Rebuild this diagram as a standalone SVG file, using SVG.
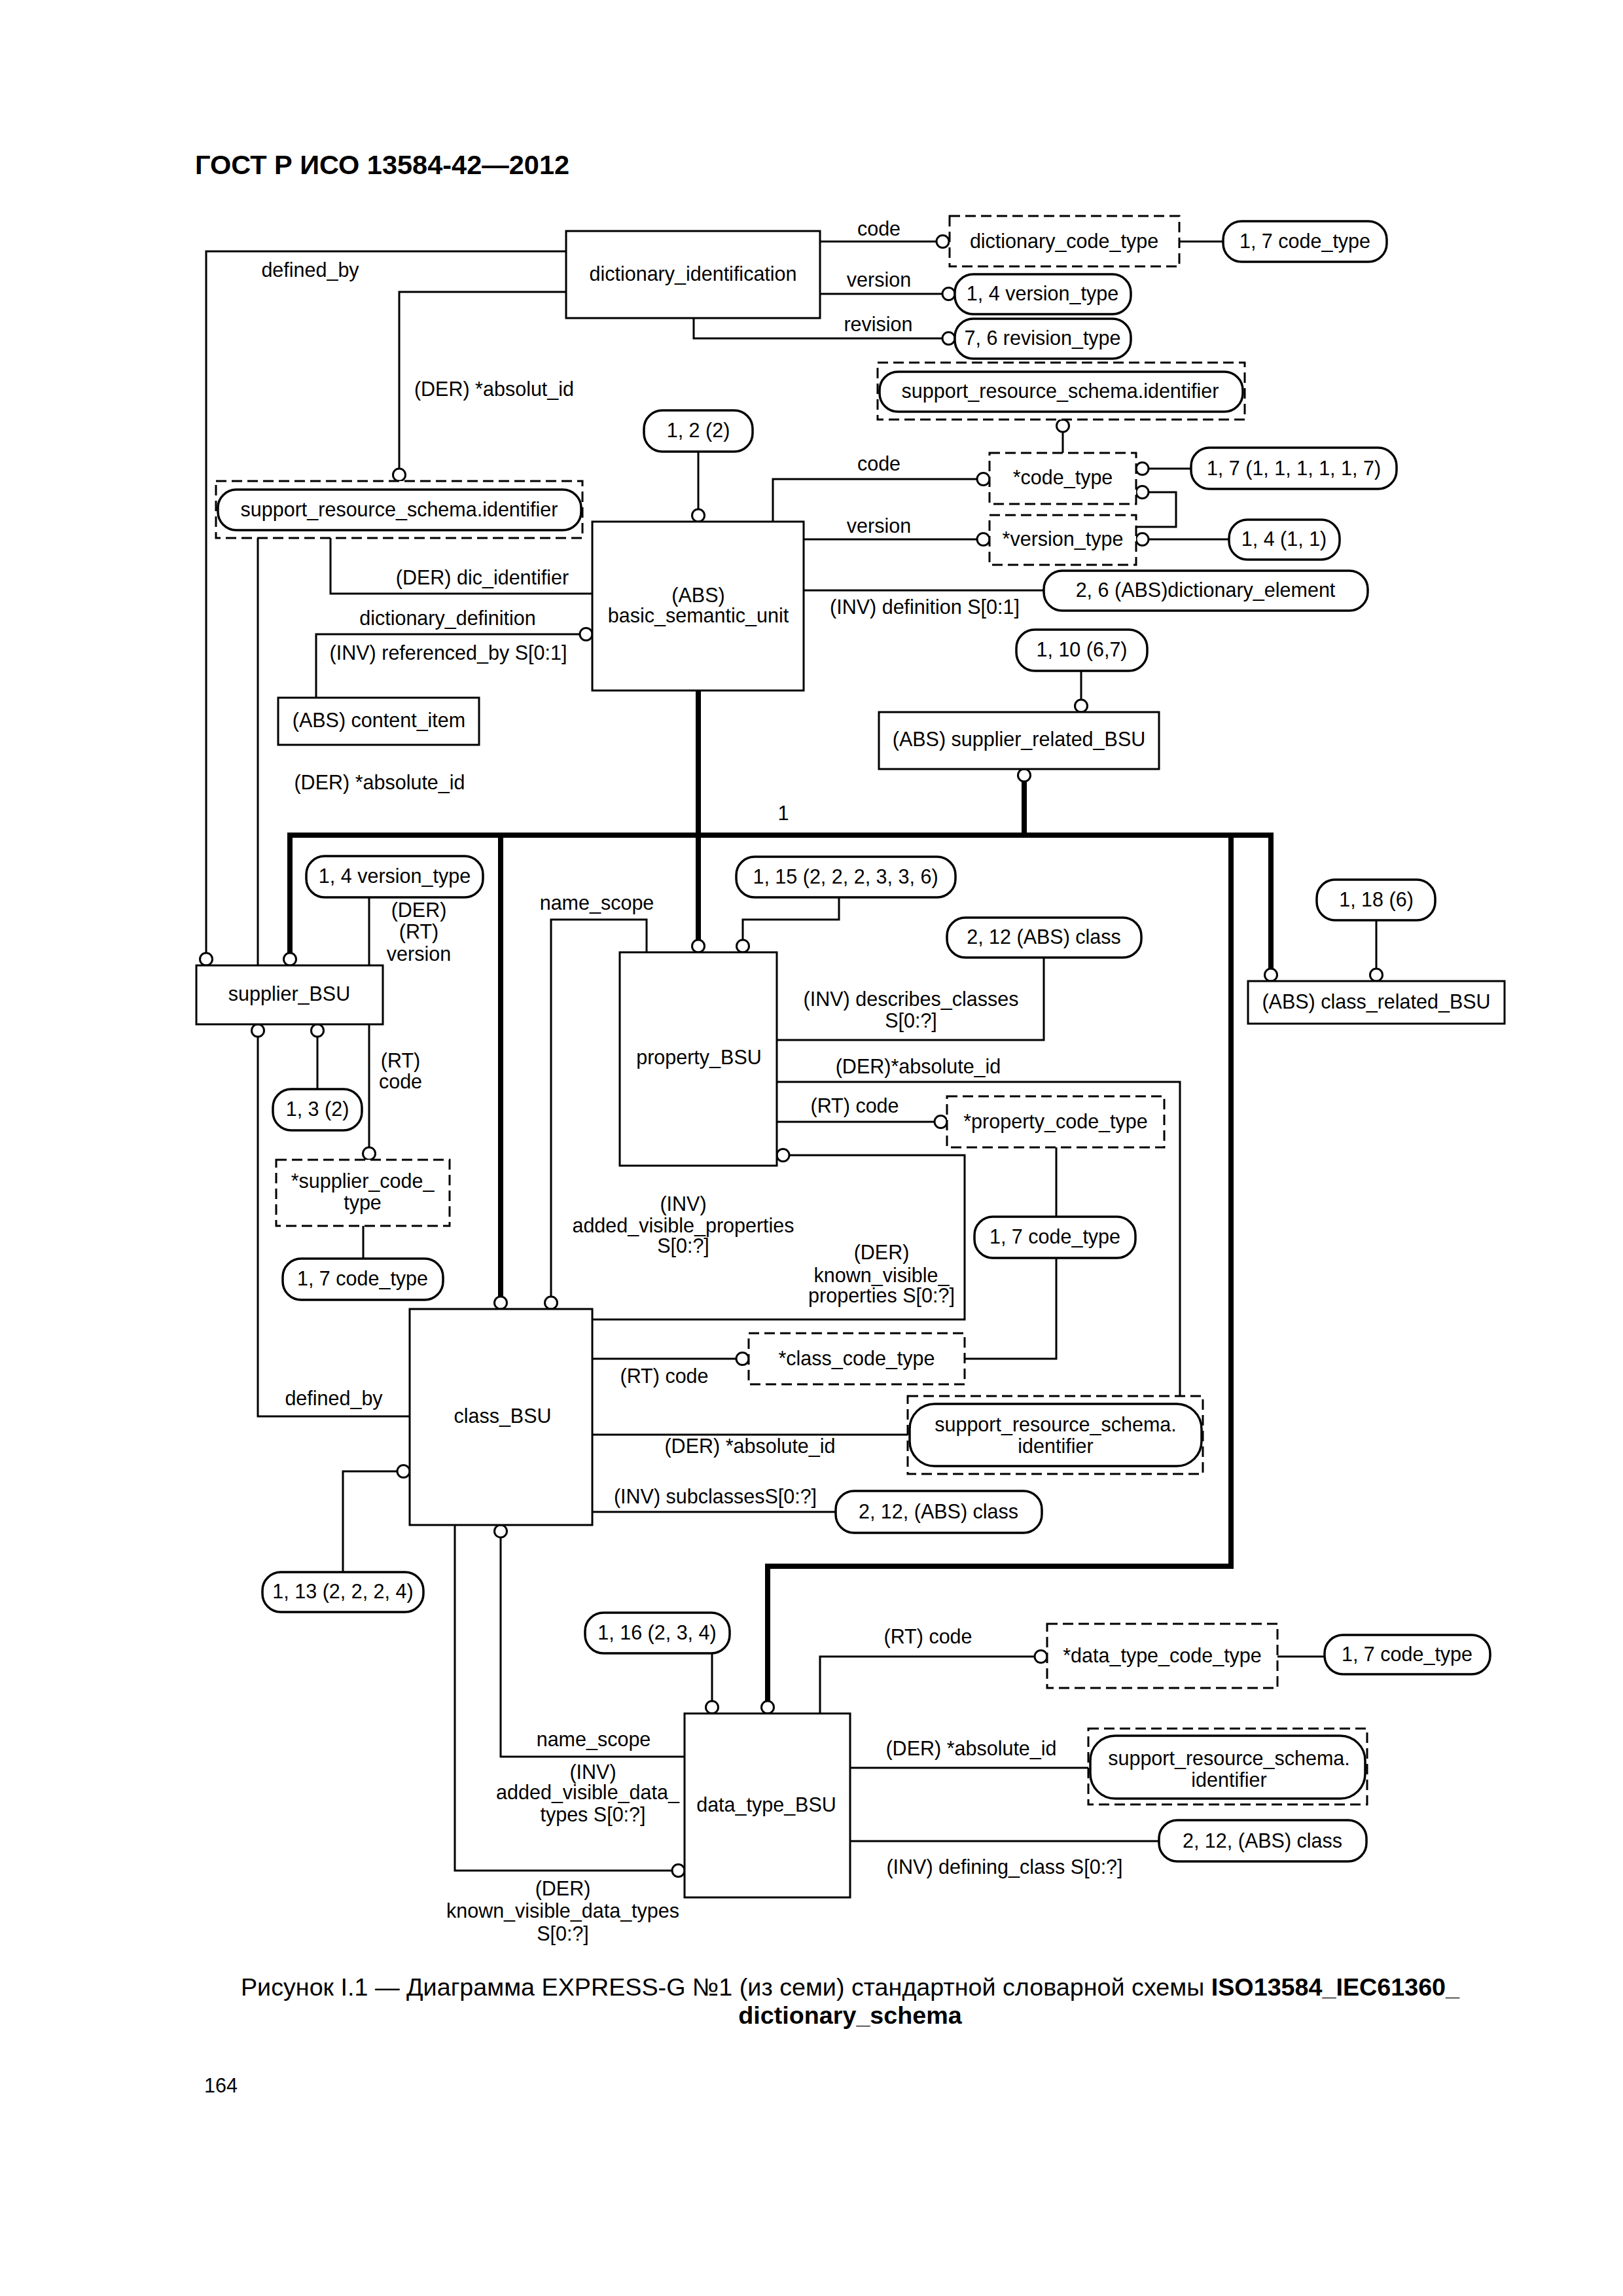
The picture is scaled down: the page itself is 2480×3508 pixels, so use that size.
<svg xmlns="http://www.w3.org/2000/svg" width="2480" height="3508" viewBox="0 0 2480 3508">
<style>
text{font-family:"Liberation Sans",Arial,sans-serif;font-size:30.5px;fill:#000}
.m{text-anchor:middle}
.b{fill:#fff;stroke:#000;stroke-width:3}
.d{fill:#fff;stroke:#000;stroke-width:3;stroke-dasharray:16 8}
.p{fill:#fff;stroke:#000;stroke-width:3.5}
.l{fill:none;stroke:#000;stroke-width:3}
.t{fill:none;stroke:#000;stroke-width:8;stroke-linejoin:miter}
.o{fill:#fff;stroke:#000;stroke-width:3}
.title{font-size:41.5px;font-weight:bold}
.cap{font-size:37.7px}
</style>
<rect width="2480" height="3508" fill="#fff"/>
<text class="title" x="298" y="266">ГОСТ Р ИСО 13584-42—2012</text>

<g id="connectors">
<path class="l" d="M1253,369H1431"/>
<path class="l" d="M1802,369H1869"/>
<path class="l" d="M1253,449H1440"/>
<path class="l" d="M1060,486V517H1440"/>
<path class="l" d="M865,384H315V1456"/>
<path class="l" d="M865,446H610V716"/>
<path class="l" d="M394,822V1475"/>
<path class="l" d="M505,822V907H905"/>
<path class="l" d="M483,1066V969H886"/>
<path class="l" d="M1067,690V778"/>
<path class="l" d="M1181,797V732H1493"/>
<path class="l" d="M1624,660V692"/>
<path class="l" d="M1755,716H1820"/>
<path class="l" d="M1755,752H1797V805H1736"/>
<path class="l" d="M1228,824H1493"/>
<path class="l" d="M1755,824H1878"/>
<path class="l" d="M1228,902H1595"/>
<path class="l" d="M1652,1025V1069"/>
<path class="t" d="M1565,1194V1276"/>
<path class="t" d="M1067,1055V1436"/>
<path class="t" d="M443,1456V1276H1942V1480"/>
<path class="t" d="M765,1276V1981"/>
<path class="t" d="M1881,1276V2393H1173V2599"/>
<path class="l" d="M564,1371V1475"/>
<path class="l" d="M394,1584V2164H626"/>
<path class="l" d="M485,1584V1664"/>
<path class="l" d="M564,1565V1753"/>
<path class="l" d="M555,1873V1923"/>
<path class="l" d="M842,1981V1405H988V1455"/>
<path class="l" d="M1135,1436V1405H1282V1371"/>
<path class="l" d="M1187,1589H1595V1463"/>
<path class="l" d="M1187,1653H1803V2133"/>
<path class="l" d="M1187,1714H1428"/>
<path class="l" d="M1614,1753V1859"/>
<path class="l" d="M1614,1922V2076H1474"/>
<path class="l" d="M1206,1765H1474V2016H905"/>
<path class="l" d="M905,2076H1125"/>
<path class="l" d="M905,2192H1390"/>
<path class="l" d="M905,2310H1277"/>
<path class="l" d="M607,2248H524V2402"/>
<path class="l" d="M695,2330V2858H1027"/>
<path class="l" d="M765,2349V2684H1046"/>
<path class="l" d="M1088,2526V2599"/>
<path class="l" d="M1253,2618V2531H1581"/>
<path class="l" d="M1952,2531H2024"/>
<path class="l" d="M1299,2701H1666"/>
<path class="l" d="M1299,2813H1771"/>
<path class="l" d="M2103,1480V1406"/>
<circle class="o" cx="1440.5" cy="369" r="9.5"/>
<circle class="o" cx="1449.5" cy="449" r="9.5"/>
<circle class="o" cx="1449.5" cy="517" r="9.5"/>
<circle class="o" cx="315" cy="1465.5" r="9.5"/>
<circle class="o" cx="610" cy="725.5" r="9.5"/>
<circle class="o" cx="895.5" cy="969" r="9.5"/>
<circle class="o" cx="1067" cy="787.5" r="9.5"/>
<circle class="o" cx="1502.5" cy="732" r="9.5"/>
<circle class="o" cx="1624" cy="650.5" r="9.5"/>
<circle class="o" cx="1745.5" cy="716" r="9.5"/>
<circle class="o" cx="1745.5" cy="752" r="9.5"/>
<circle class="o" cx="1502.5" cy="824" r="9.5"/>
<circle class="o" cx="1745.5" cy="824" r="9.5"/>
<circle class="o" cx="1652" cy="1078.5" r="9.5"/>
<circle class="o" cx="1565" cy="1184.5" r="9.5"/>
<circle class="o" cx="1067" cy="1445.5" r="9.5"/>
<circle class="o" cx="443" cy="1465.5" r="9.5"/>
<circle class="o" cx="765" cy="1990.5" r="9.5"/>
<circle class="o" cx="1942" cy="1489.5" r="9.5"/>
<circle class="o" cx="1173" cy="2608.5" r="9.5"/>
<circle class="o" cx="394" cy="1574.5" r="9.5"/>
<circle class="o" cx="485" cy="1574.5" r="9.5"/>
<circle class="o" cx="564" cy="1762.5" r="9.5"/>
<circle class="o" cx="842" cy="1990.5" r="9.5"/>
<circle class="o" cx="1135" cy="1445.5" r="9.5"/>
<circle class="o" cx="1437.5" cy="1714" r="9.5"/>
<circle class="o" cx="1196.5" cy="1765" r="9.5"/>
<circle class="o" cx="1134.5" cy="2076" r="9.5"/>
<circle class="o" cx="616.5" cy="2248" r="9.5"/>
<circle class="o" cx="765" cy="2339.5" r="9.5"/>
<circle class="o" cx="1036.5" cy="2858" r="9.5"/>
<circle class="o" cx="1088" cy="2608.5" r="9.5"/>
<circle class="o" cx="1590.5" cy="2531" r="9.5"/>
<circle class="o" cx="2103" cy="1489.5" r="9.5"/>
</g>

<g id="connector-labels">
<text class="m" x="1343" y="360">code</text>
<text class="m" x="1343" y="438">version</text>
<text class="m" x="1342" y="506">revision</text>
<text class="m" x="474" y="423">defined_by</text>
<text class="m" x="755" y="605">(DER) *absolut_id</text>
<text class="m" x="1343" y="719">code</text>
<text class="m" x="1343" y="814">version</text>
<text class="m" x="1413" y="938">(INV) definition S[0:1]</text>
<text class="m" x="737" y="893">(DER) dic_identifier</text>
<text class="m" x="684" y="955">dictionary_definition</text>
<text class="m" x="685" y="1008">(INV) referenced_by S[0:1]</text>
<text class="m" x="580" y="1206">(DER) *absolute_id</text>
<text class="m" x="1197" y="1253">1</text>
<text class="m" x="640" y="1401">(DER)</text>
<text class="m" x="640" y="1434">(RT)</text>
<text class="m" x="640" y="1468">version</text>
<text class="m" x="612" y="1631">(RT)</text>
<text class="m" x="612" y="1663">code</text>
<text class="m" x="912" y="1390">name_scope</text>
<text class="m" x="1392" y="1537">(INV) describes_classes</text>
<text class="m" x="1392" y="1570">S[0:?]</text>
<text class="m" x="1403" y="1640">(DER)*absolute_id</text>
<text class="m" x="1306" y="1700">(RT) code</text>
<text class="m" x="1044" y="1850">(INV)</text>
<text class="m" x="1044" y="1883">added_visible_properties</text>
<text class="m" x="1044" y="1914">S[0:?]</text>
<text class="m" x="1347" y="1924">(DER)</text>
<text class="m" x="1347" y="1959">known_visible_</text>
<text class="m" x="1347" y="1990">properties S[0:?]</text>
<text class="m" x="1015" y="2113">(RT) code</text>
<text class="m" x="510" y="2147">defined_by</text>
<text class="m" x="1146" y="2220">(DER) *absolute_id</text>
<text class="m" x="1093" y="2297">(INV) subclassesS[0:?]</text>
<text class="m" x="1418" y="2511">(RT) code</text>
<text class="m" x="907" y="2668">name_scope</text>
<text class="m" x="906" y="2718">(INV)</text>
<text class="m" x="898" y="2749">added_visible_data_</text>
<text class="m" x="906" y="2783">types S[0:?]</text>
<text class="m" x="1484" y="2682">(DER) *absolute_id</text>
<text class="m" x="1535" y="2863">(INV) defining_class S[0:?]</text>
<text class="m" x="860" y="2896">(DER)</text>
<text class="m" x="860" y="2930">known_visible_data_types</text>
<text class="m" x="860" y="2965">S[0:?]</text>
</g>

<g id="dictionary_identification"><rect class="b" x="865" y="353" width="388" height="133"/><text class="m" x="1059" y="429">dictionary_identification</text></g>
<g id="dictionary_code_type"><rect class="d" x="1451" y="330" width="351" height="77"/><text class="m" x="1626" y="379">dictionary_code_type</text></g>
<g id="code_type_1_7_a"><rect class="p" x="1869" y="338" width="250" height="62" rx="28"/><text class="m" x="1994" y="379">1, 7 code_type</text></g>
<g id="version_type_1_4_a"><rect class="p" x="1459" y="419" width="269" height="61" rx="28"/><text class="m" x="1593" y="459">1, 4 version_type</text></g>
<g id="revision_type_7_6"><rect class="p" x="1459" y="487" width="269" height="61" rx="28"/><text class="m" x="1593" y="527">7, 6 revision_type</text></g>
<g id="srs_identifier_top"><rect class="d" x="1341" y="554" width="561" height="87"/><rect class="p" x="1344" y="568" width="555" height="61" rx="28"/><text class="m" x="1620" y="608">support_resource_schema.identifier</text></g>
<g id="code_type_star"><rect class="d" x="1512" y="692" width="224" height="78"/><text class="m" x="1624" y="740">*code_type</text></g>
<g id="pill_1_7_111117"><rect class="p" x="1820" y="684" width="314" height="63" rx="28"/><text class="m" x="1977" y="726">1, 7 (1, 1, 1, 1, 1, 7)</text></g>
<g id="version_type_star"><rect class="d" x="1512" y="787" width="224" height="76"/><text class="m" x="1624" y="834">*version_type</text></g>
<g id="pill_1_4_11"><rect class="p" x="1878" y="794" width="169" height="61" rx="28"/><text class="m" x="1962" y="834">1, 4 (1, 1)</text></g>
<g id="dictionary_element"><rect class="p" x="1595" y="872" width="495" height="61" rx="28"/><text class="m" x="1842" y="912">2, 6 (ABS)dictionary_element</text></g>
<g id="pill_1_2_2"><rect class="p" x="984" y="627" width="166" height="63" rx="28"/><text class="m" x="1067" y="668">1, 2 (2)</text></g>
<g id="basic_semantic_unit"><rect class="b" x="905" y="797" width="323" height="258"/><text class="m" x="1067" y="920">(ABS)</text><text class="m" x="1067" y="951">basic_semantic_unit</text></g>
<g id="srs_identifier_left"><rect class="d" x="330" y="735" width="560" height="87"/><rect class="p" x="333" y="748" width="555" height="62" rx="28"/><text class="m" x="610" y="789">support_resource_schema.identifier</text></g>
<g id="content_item"><rect class="b" x="425" y="1066" width="307" height="72"/><text class="m" x="579" y="1111">(ABS) content_item</text></g>
<g id="pill_1_10"><rect class="p" x="1553" y="962" width="200" height="63" rx="28"/><text class="m" x="1653" y="1003">1, 10 (6,7)</text></g>
<g id="supplier_related_BSU"><rect class="b" x="1343" y="1088" width="428" height="87"/><text class="m" x="1557" y="1140">(ABS) supplier_related_BSU</text></g>
<g id="supplier_BSU"><rect class="b" x="300" y="1475" width="285" height="90"/><text class="m" x="442" y="1529">supplier_BSU</text></g>
<g id="version_type_1_4_b"><rect class="p" x="468" y="1308" width="270" height="63" rx="28"/><text class="m" x="603" y="1349">1, 4 version_type</text></g>
<g id="pill_1_3_2"><rect class="p" x="417" y="1664" width="136" height="63" rx="28"/><text class="m" x="485" y="1705">1, 3 (2)</text></g>
<g id="supplier_code_type"><rect class="d" x="422" y="1772" width="265" height="101"/><text class="m" x="554" y="1815">*supplier_code_</text><text class="m" x="554" y="1848">type</text></g>
<g id="code_type_1_7_b"><rect class="p" x="432" y="1923" width="245" height="63" rx="28"/><text class="m" x="554" y="1964">1, 7 code_type</text></g>
<g id="property_BSU"><rect class="b" x="947" y="1455" width="240" height="326"/><text class="m" x="1068" y="1626">property_BSU</text></g>
<g id="pill_1_15"><rect class="p" x="1125" y="1309" width="335" height="62" rx="28"/><text class="m" x="1292" y="1350">1, 15 (2, 2, 2, 3, 3, 6)</text></g>
<g id="class_2_12_a"><rect class="p" x="1447" y="1402" width="297" height="61" rx="28"/><text class="m" x="1595" y="1442">2, 12 (ABS) class</text></g>
<g id="property_code_type"><rect class="d" x="1447" y="1675" width="332" height="78"/><text class="m" x="1613" y="1724">*property_code_type</text></g>
<g id="code_type_1_7_c"><rect class="p" x="1489" y="1859" width="246" height="63" rx="28"/><text class="m" x="1612" y="1900">1, 7 code_type</text></g>
<g id="pill_1_18"><rect class="p" x="2012" y="1344" width="181" height="62" rx="28"/><text class="m" x="2103" y="1385">1, 18 (6)</text></g>
<g id="class_related_BSU"><rect class="b" x="1907" y="1499" width="392" height="65"/><text class="m" x="2103" y="1541">(ABS) class_related_BSU</text></g>
<g id="class_BSU"><rect class="b" x="626" y="2000" width="279" height="330"/><text class="m" x="768" y="2174">class_BSU</text></g>
<g id="class_code_type"><rect class="d" x="1144" y="2037" width="330" height="78"/><text class="m" x="1309" y="2086">*class_code_type</text></g>
<g id="srs_identifier_mid"><rect class="d" x="1387" y="2133" width="451" height="119"/><rect class="p" x="1390" y="2145" width="446" height="95" rx="38"/><text class="m" x="1613" y="2187">support_resource_schema.</text><text class="m" x="1613" y="2220">identifier</text></g>
<g id="class_2_12_b"><rect class="p" x="1277" y="2278" width="315" height="64" rx="28"/><text class="m" x="1434" y="2320">2, 12, (ABS) class</text></g>
<g id="pill_1_13"><rect class="p" x="401" y="2402" width="246" height="61" rx="28"/><text class="m" x="524" y="2442">1, 13 (2, 2, 2, 4)</text></g>
<g id="pill_1_16"><rect class="p" x="894" y="2464" width="221" height="62" rx="28"/><text class="m" x="1004" y="2505">1, 16 (2, 3, 4)</text></g>
<g id="data_type_BSU"><rect class="b" x="1046" y="2618" width="253" height="281"/><text class="m" x="1171" y="2768">data_type_BSU</text></g>
<g id="data_type_code_type"><rect class="d" x="1600" y="2481" width="352" height="98"/><text class="m" x="1776" y="2540">*data_type_code_type</text></g>
<g id="code_type_1_7_d"><rect class="p" x="2024" y="2498" width="253" height="60" rx="28"/><text class="m" x="2150" y="2538">1, 7 code_type</text></g>
<g id="srs_identifier_bottom"><rect class="d" x="1663" y="2641" width="426" height="116"/><rect class="p" x="1666" y="2652" width="420" height="96" rx="38"/><text class="m" x="1878" y="2697">support_resource_schema.</text><text class="m" x="1878" y="2730">identifier</text></g>
<g id="class_2_12_c"><rect class="p" x="1771" y="2781" width="317" height="63" rx="28"/><text class="m" x="1929" y="2823">2, 12, (ABS) class</text></g>

<text class="cap m" x="1299" y="3049">Рисунок I.1 — Диаграмма EXPRESS-G №1 (из семи) стандартной словарной схемы <tspan font-weight="bold">ISO13584_IEC61360_</tspan></text>
<text class="cap m" x="1299" y="3092" font-weight="bold">dictionary_schema</text>
<text x="312" y="3197" font-size="36">164</text>
</svg>
